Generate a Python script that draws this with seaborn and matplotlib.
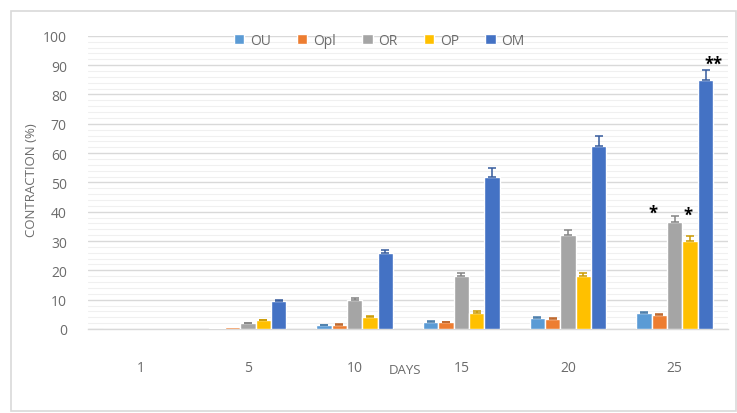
import numpy as np
import pandas as pd
import seaborn as sns
import matplotlib.pyplot as plt
from matplotlib.patches import Rectangle
from matplotlib.ticker import MultipleLocator
import matplotlib.colors as mcolors

# Contraction (%) per group over time
days = ["1", "5", "10", "15", "20", "25"]
groups = ["OU", "Opl", "OR", "OP", "OM"]
ou = [0.0, 0.3, 1.2, 2.5, 3.8, 5.5]
opl = [0.0, 0.8, 1.5, 2.3, 3.5, 4.8]
orr = [0.0, 2.0, 10.0, 18.0, 32.0, 36.5]
op = [0.0, 3.0, 4.0, 5.5, 18.0, 30.0]
om = [0.0, 9.5, 26.0, 52.0, 62.5, 85.0]

# Standard errors
ou_err = [0.0, 0.0, 0.1, 0.2, 0.2, 0.3]
opl_err = [0.0, 0.0, 0.1, 0.2, 0.2, 0.3]
orr_err = [0.0, 0.2, 0.5, 1.0, 1.6, 2.0]
op_err = [0.0, 0.2, 0.4, 0.5, 1.2, 1.8]
om_err = [0.0, 0.4, 1.0, 2.8, 3.3, 3.5]

colors = ["#5B9BD5", "#ED7D31", "#A5A5A5", "#FFC000", "#4472C4"]

values = [ou, opl, orr, op, om]
errors = [ou_err, opl_err, orr_err, op_err, om_err]

df = pd.DataFrame({
    "day": np.tile(days, len(groups)),
    "group": np.repeat(groups, len(days)),
    "value": np.concatenate(values),
})

sns.set_theme(style="white")
plt.rcParams["font.family"] = ["Open Sans", "DejaVu Sans"]

fig = plt.figure(figsize=(7.37, 4.14), dpi=100)
ax = fig.add_axes([0.119, 0.203, 0.869, 0.708])

sns.barplot(data=df, x="day", y="value", hue="group", order=days,
            hue_order=groups, palette=colors, width=0.72, gap=0,
            errorbar=None, saturation=1, ax=ax, legend=True, zorder=3)

# Error bars on top of each bar
for cont, col, err in zip(ax.containers, colors, errors):
    xs = [p.get_x() + p.get_width() / 2 for p in cont.patches]
    ys = [p.get_height() for p in cont.patches]
    ecol = tuple(c * 0.8 for c in mcolors.to_rgb(col))
    for x, y, e in zip(xs, ys, err):
        if e > 0:
            ax.errorbar(x, y, yerr=[[0], [e]], fmt="none", ecolor=ecol,
                        elinewidth=1.1, capsize=3, capthick=1.1, zorder=4)

ax.set_ylim(0, 100)
ax.set_xlim(-0.5, 5.5)
ax.yaxis.set_major_locator(MultipleLocator(10))
ax.yaxis.set_minor_locator(MultipleLocator(2))
ax.grid(axis="y", which="major", color="#d9d9d9", linewidth=1.0, zorder=0)
ax.grid(axis="y", which="minor", color="#f0f0f0", linewidth=0.8, zorder=0)
ax.set_axisbelow(True)

for s in ["top", "right", "left"]:
    ax.spines[s].set_visible(False)
ax.spines["bottom"].set_color("#d9d9d9")
ax.spines["bottom"].set_linewidth(1.0)

ax.tick_params(axis="x", length=0, pad=22, labelsize=10, labelcolor="#6b6b6b")
ax.tick_params(axis="y", which="both", length=0, pad=15, labelsize=10,
               labelcolor="#6b6b6b")

ax.set_xlabel("DAYS", fontsize=9.5, color="#6b6b6b")
ax.xaxis.set_label_coords(0.495, -0.115)
ax.set_ylabel("CONTRACTION (%)", fontsize=9.5, color="#6b6b6b")
ax.yaxis.set_label_coords(-0.077, 0.51)

# Significance markers
ax.text(4.80, 39.5, "*", fontsize=12, fontweight="bold", color="black",
        ha="center", va="center", zorder=5)
ax.text(5.12, 39.0, "*", fontsize=12, fontweight="bold", color="black",
        ha="center", va="center", zorder=5)
ax.text(5.36, 90.5, "**", fontsize=12, fontweight="bold", color="black",
        ha="center", va="center", zorder=5)

handles, labels = ax.get_legend_handles_labels()
ax.legend(handles, labels, ncol=5, loc="center", bbox_to_anchor=(0.455, 0.985),
          frameon=False, fontsize=10, handlelength=0.75, handleheight=0.75,
          handletextpad=0.4, columnspacing=1.9, labelcolor="#6b6b6b")

# Chart-area border
fig.patches.append(Rectangle((0.015, 0.005), 0.983, 0.967,
                             transform=fig.transFigure, fill=False,
                             edgecolor="#d9d9d9", linewidth=1.2))

fig.savefig("out.png", dpi=100)
